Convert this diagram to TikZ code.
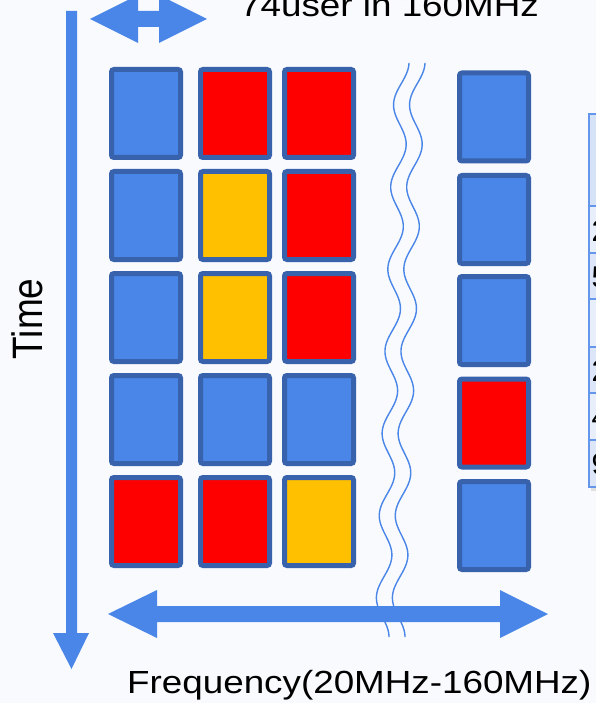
\documentclass[tikz,border=0pt]{standalone}
\usepackage{fontspec}
\setmainfont{Liberation Sans}
\definecolor{cellblue}{RGB}{74,134,232}
\definecolor{cellborder}{RGB}{56,98,172}
\definecolor{cellred}{RGB}{255,0,0}
\definecolor{cellyellow}{RGB}{255,192,0}
\definecolor{arrowblue}{RGB}{74,134,232}
\definecolor{bgcol}{RGB}{248,250,254}
\definecolor{tabline}{RGB}{100,150,235}
\definecolor{tabhead}{RGB}{214,226,246}
\definecolor{tabrowa}{RGB}{232,238,250}
\definecolor{tabrowb}{RGB}{220,230,248}
\tikzset{
  cell/.style={draw=cellborder, line width=5pt, rounded corners=2.5pt, inner sep=0pt,
    minimum width=69pt, minimum height=88pt},
  wave/.style={draw=arrowblue, line width=1.4pt},
  axisarrow/.style={fill=arrowblue},
  label/.style={inner sep=0pt, font=\fontsize{32}{38}\selectfont},
  digit/.style={inner sep=0pt, anchor=west, font=\fontsize{30}{36}\selectfont}
}
\begin{document}
\begin{tikzpicture}[x=1pt,y=-1pt]
\useasboundingbox (0,0) rectangle (596,703);
\clip (0,0) rectangle (596,703);
\fill[bgcol] (0,0) rectangle (596,703);

% main grid
\foreach \col/\cx in {1/146,2/235,3/319}{
  \foreach \row/\cy in {1/113.5,2/215.5,3/317.5,4/419.5,5/521.5}{
    \pgfmathsetmacro{\idx}{int(\row*10+\col)}
    \ifcase\numexpr\idx-11\relax
      \def\fc{cellblue}\or\def\fc{cellred}\or\def\fc{cellred}\or\or\or\or\or\or\or\or
      \def\fc{cellblue}\or\def\fc{cellyellow}\or\def\fc{cellred}\or\or\or\or\or\or\or\or
      \def\fc{cellblue}\or\def\fc{cellyellow}\or\def\fc{cellred}\or\or\or\or\or\or\or\or
      \def\fc{cellblue}\or\def\fc{cellblue}\or\def\fc{cellblue}\or\or\or\or\or\or\or\or
      \def\fc{cellred}\or\def\fc{cellred}\or\def\fc{cellyellow}\fi
    \node[cell, fill=\fc] (c\row\col) at (\cx,\cy) {};
  }
}
% right column
\foreach \row/\cy/\fc in {1/117/cellblue,2/219.5/cellblue,3/320.5/cellblue,4/423/cellred,5/525.5/cellblue}{
  \node[cell, fill=\fc] (r\row) at (494,\cy) {};
}

% wavy break lines
\draw[wave] plot[domain=0:1, samples=400] ({402 - 20*\x + 7*cos(7*360*\x)}, {63 + 575*\x});
\draw[wave] plot[domain=0:1, samples=400] ({418 - 20*\x + 7*cos(7*360*\x)}, {63 + 575*\x});

% vertical time arrow
\fill[axisarrow] (66,11) -- (77,11) -- (77,633) -- (89,633) -- (71.5,669) -- (53,633) -- (66,633) -- cycle;
% top double arrow
\fill[axisarrow] (90,19) -- (138,-5) -- (138,11) -- (159,11) -- (159,-5) -- (207,19)
  -- (159,43) -- (159,27) -- (138,27) -- (138,43) -- cycle;
% frequency double arrow
\fill[axisarrow] (108,614) -- (157,590) -- (157,606) -- (500,606) -- (500,590) -- (548,614)
  -- (500,638) -- (500,622) -- (157,622) -- (157,638) -- cycle;

% table (cut off at right edge)
\fill[black!12] (591,487) rectangle (600,491);
\fill[tabhead] (589,114) rectangle (600,206);
\fill[tabrowa] (589,206) rectangle (600,253);
\fill[tabrowb] (589,253) rectangle (600,299);
\fill[tabrowa] (589,299) rectangle (600,347);
\fill[tabrowb] (589,347) rectangle (600,393);
\fill[tabrowa] (589,393) rectangle (600,440);
\fill[tabrowb] (589,440) rectangle (600,487);
\draw[tabline, line width=1.5pt] (600,114) -- (589,114) -- (589,487) -- (600,487);
\foreach \yy in {206,253,299,347,393,440}{
  \draw[tabline, line width=1.2pt] (589,\yy) -- (600,\yy);
}
\node[digit] (t1) at (591.5,231) {2};
\node[digit] (t2) at (591.5,277) {5};
\node[digit] (t4) at (591.5,371) {2};
\node[digit] (t5) at (591.5,417) {4};
\node[digit] (t6) at (591.5,464) {9};

% labels
\node[label, anchor=base west] (toplabel) at (240,17) {\scalebox{1.15}[1]{74user in 160MHz}};
\node[label, anchor=base west] (freqlabel) at (127,693) {\scalebox{1.15}[1]{Frequency(20MHz-160MHz)}};
\node[inner sep=0pt, font=\fontsize{37}{44}\selectfont] (timelabel) at (27,319) {\scalebox{1.15}[1]{\rotatebox{90}{Time}}};
\end{tikzpicture}
\end{document}
